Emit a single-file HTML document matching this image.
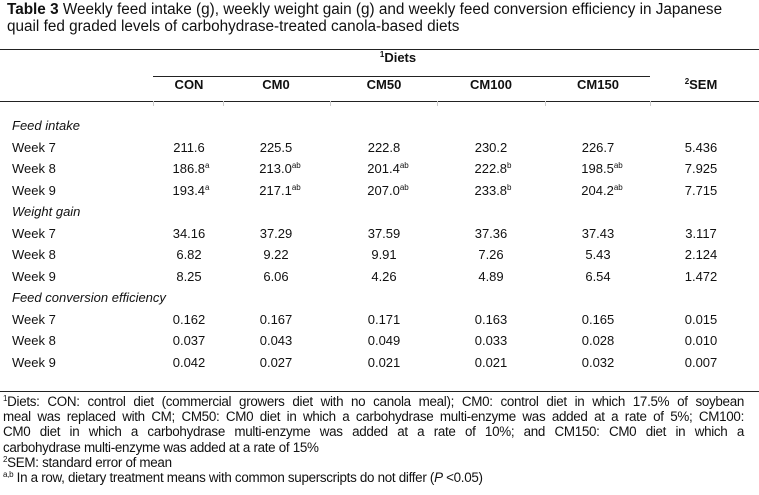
<!DOCTYPE html>
<html><head><meta charset="utf-8"><style>
body{margin:0;width:759px;height:495px;background:#fff;font-family:"Liberation Sans",Arial,sans-serif;color:#111;position:relative;overflow:hidden}
.a{position:absolute;white-space:nowrap;font-size:13px;line-height:16px}
.c{transform:translateX(-50%)}
.h{font-weight:bold}
.i{font-style:italic}
sup{font-size:8px;line-height:0;vertical-align:5px}
.rule{position:absolute;height:1px;background:#222}
.tick{position:absolute;width:1px;background:#ccc}
.fn{position:absolute;left:3px;width:741px;font-size:13.4px;line-height:15px;text-align:justify;text-align-last:justify;white-space:nowrap;letter-spacing:-0.3px}
.fn.l{text-align-last:left}
</style></head><body>
<div class="a" style="left:7px;top:1px;font-size:15.3px;line-height:17px"><b>Table 3</b> Weekly feed intake (g), weekly weight gain (g) and weekly feed conversion efficiency in Japanese<br>quail fed graded levels of carbohydrase-treated canola-based diets</div>
<div class="rule" style="left:0;top:49px;width:759px"></div>
<div class="rule" style="left:153px;top:76px;width:497px"></div>
<div class="rule" style="left:0;top:101px;width:759px"></div>
<div class="rule" style="left:0;top:391px;width:759px"></div>
<div class="tick" style="left:153px;top:101px;height:5px"></div>
<div class="tick" style="left:223px;top:101px;height:5px"></div>
<div class="tick" style="left:330px;top:101px;height:5px"></div>
<div class="tick" style="left:437px;top:101px;height:5px"></div>
<div class="tick" style="left:545px;top:101px;height:5px"></div>
<div class="tick" style="left:650px;top:101px;height:5px"></div>
<div class="a c h" style="left:398px;top:50px"><sup>1</sup>Diets</div>
<div class="a c h" style="left:189px;top:77px">CON</div>
<div class="a c h" style="left:276px;top:77px">CM0</div>
<div class="a c h" style="left:384px;top:77px">CM50</div>
<div class="a c h" style="left:491px;top:77px">CM100</div>
<div class="a c h" style="left:598px;top:77px">CM150</div>
<div class="a c h" style="left:701px;top:77px"><sup>2</sup>SEM</div>
<div id="body"></div>
<div class="fn" style="top:394px"><sup>1</sup>Diets: CON: control diet (commercial growers diet with no canola meal); CM0: control diet in which 17.5% of soybean</div>
<div class="fn" style="top:409px">meal was replaced with CM; CM50: CM0 diet in which a carbohydrase multi-enzyme was added at a rate of 5%; CM100:</div>
<div class="fn" style="top:424px">CM0 diet in which a carbohydrase multi-enzyme was added at a rate of 10%; and CM150: CM0 diet in which a</div>
<div class="fn l" style="top:440px">carbohydrase multi-enzyme was added at a rate of 15%</div>
<div class="fn l" style="top:455px"><sup>2</sup>SEM: standard error of mean</div>
<div class="fn l" style="top:470px"><sup>a,b</sup> In a row, dietary treatment means with common superscripts do not differ (<i>P</i> &lt;0.05)</div>
<script>
const rowLabels=["Feed intake","Week 7","Week 8","Week 9","Weight gain","Week 7","Week 8","Week 9","Feed conversion efficiency","Week 7","Week 8","Week 9"];
const rowValues=[null,
["211.6","225.5","222.8","230.2","226.7","5.436"],
["186.8|a","213.0|ab","201.4|ab","222.8|b","198.5|ab","7.925"],
["193.4|a","217.1|ab","207.0|ab","233.8|b","204.2|ab","7.715"],
null,
["34.16","37.29","37.59","37.36","37.43","3.117"],
["6.82","9.22","9.91","7.26","5.43","2.124"],
["8.25","6.06","4.26","4.89","6.54","1.472"],
null,
["0.162","0.167","0.171","0.163","0.165","0.015"],
["0.037","0.043","0.049","0.033","0.028","0.010"],
["0.042","0.027","0.021","0.021","0.032","0.007"]];
const colX=[189,276,384,491,598,701];
const body=document.getElementById('body');
rowLabels.forEach((lab,r)=>{
  const y=118+r*21.5;
  const d=document.createElement('div');
  
  
  d.className='a'+(rowValues[r]?'':' i');
  d.style.left='12px';d.style.top=y+'px';d.textContent=lab;body.appendChild(d);
  if(rowValues[r])rowValues[r].forEach((v,c)=>{
    const [n,s]=v.split('|');
    const e=document.createElement('div');
    
    
    e.className='a c';e.style.left=(colX[c]+(s?s.length*2:0))+'px';e.style.top=y+'px';
    e.innerHTML=n+(s?'<sup>'+s+'</sup>':'');body.appendChild(e);
  });
});
</script>
</body></html>
